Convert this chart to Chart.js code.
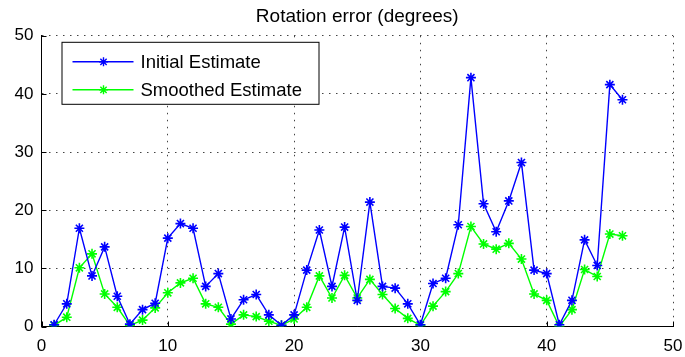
<!DOCTYPE html>
<html>
<head>
<meta charset="utf-8">
<script src="https://cdn.jsdelivr.net/npm/chart.js@4"></script>
<style>
  html, body { margin: 0; padding: 0; background: #fff; }
  #wrap { width: 685px; height: 357px; }
</style>
</head>
<body>
<div id="wrap"><canvas id="chart"></canvas></div>
<script>
// Sample index 1..46
const frames = Array.from({ length: 46 }, (_, i) => i + 1);

const initialEstimate = [
    0.3, 3.9, 16.9, 8.7, 13.7, 5.2, 0.4, 2.9, 4.0, 15.2,
    17.7, 16.9, 6.9, 9.1, 1.3, 4.6, 5.5, 2.0, 0.2, 2.0,
    9.7, 16.6, 6.9, 17.1, 4.5, 21.4, 6.9, 6.6, 3.9, 0.3,
    7.4, 8.3, 17.5, 42.8, 21.1, 16.3, 21.6, 28.2, 9.7, 9.1,
    0.3, 4.5, 14.9, 10.5, 41.6, 39.0
];

const smoothedEstimate = [
    0.2, 1.6, 10.1, 12.5, 5.6, 3.3, 0.2, 1.1, 3.2, 5.8,
    7.5, 8.3, 3.9, 3.3, 0.4, 2.0, 1.7, 0.9, 0.2, 1.3,
    3.3, 8.7, 4.9, 8.8, 4.9, 8.1, 5.5, 3.1, 1.4, 0.2,
    3.5, 6.0, 9.1, 17.2, 14.2, 13.3, 14.3, 11.6, 5.6, 4.5,
    0.0, 2.9, 9.8, 8.6, 15.9, 15.6
];

const xTicks = [0, 10, 20, 30, 40, 50];
const yTicks = [0, 10, 20, 30, 40, 50];

const FONT = 'Liberation Sans, Arial, Helvetica, sans-serif';

function drawStar(ctx, x, y, r) {
    ctx.beginPath();
    ctx.moveTo(x - r, y); ctx.lineTo(x + r, y);
    ctx.moveTo(x, y - r); ctx.lineTo(x, y + r);
    const d = r * 0.7;
    ctx.moveTo(x - d, y - d); ctx.lineTo(x + d, y + d);
    ctx.moveTo(x - d, y + d); ctx.lineTo(x + d, y - d);
    ctx.stroke();
}

// Small inward ticks, MATLAB style
const innerTicks = {
    id: 'innerTicks',
    beforeDatasetsDraw(chart) {
        const { ctx, chartArea, scales } = chart;
        ctx.save();
        ctx.strokeStyle = '#000';
        ctx.lineWidth = 1;
        ctx.beginPath();
        xTicks.forEach(v => {
            const px = Math.round(scales.x.getPixelForValue(v)) + 0.5;
            ctx.moveTo(px, chartArea.bottom);
            ctx.lineTo(px, chartArea.bottom - 5);
        });
        yTicks.forEach(v => {
            const py = Math.round(scales.y.getPixelForValue(v)) + 0.5;
            ctx.moveTo(chartArea.left, py);
            ctx.lineTo(chartArea.left + 5, py);
        });
        ctx.stroke();
        ctx.restore();
    }
};

// Boxed legend in the upper left corner
const boxLegend = {
    id: 'boxLegend',
    afterDraw(chart) {
        const { ctx, chartArea } = chart;
        const x0 = chartArea.left + 20, y0 = chartArea.top + 6;
        const w = 257, h = 62;
        ctx.save();
        ctx.fillStyle = '#fff';
        ctx.fillRect(x0, y0, w, h);
        ctx.strokeStyle = '#000';
        ctx.lineWidth = 1;
        ctx.strokeRect(x0 + 0.5, y0 + 0.5, w, h);
        ctx.font = '18.5px ' + FONT;
        ctx.textBaseline = 'middle';
        chart.data.datasets.forEach((ds, i) => {
            const yy = y0 + 20 + i * 28;
            ctx.strokeStyle = ds.borderColor;
            ctx.lineWidth = 1.4;
            ctx.beginPath();
            ctx.moveTo(x0 + 11, yy);
            ctx.lineTo(x0 + 72, yy);
            ctx.stroke();
            drawStar(ctx, x0 + 42, yy, 4.5);
            ctx.fillStyle = '#000';
            ctx.fillText(ds.label, x0 + 79, yy + 1);
        });
        ctx.restore();
    }
};

function seriesStyle(color) {
    return {
        borderColor: color,
        backgroundColor: color,
        borderWidth: 1.4,
        pointStyle: 'star',
        pointRadius: 5,
        pointBorderWidth: 1.6,
        tension: 0
    };
}

new Chart(document.getElementById('chart'), {
    type: 'line',
    data: {
        datasets: [
            Object.assign({
                label: 'Initial Estimate',
                data: frames.map((f, i) => ({ x: f, y: initialEstimate[i] }))
            }, seriesStyle('#0000ff')),
            Object.assign({
                label: 'Smoothed Estimate',
                data: frames.map((f, i) => ({ x: f, y: smoothedEstimate[i] }))
            }, seriesStyle('#00ff00'))
        ]
    },
    options: {
        responsive: true,
        maintainAspectRatio: false,
        animation: false,
        layout: { padding: { left: 0, right: 12, top: 0, bottom: 0 } },
        plugins: {
            legend: { display: false },
            tooltip: { enabled: false },
            title: {
                display: true,
                fullSize: false,
                text: 'Rotation error (degrees)',
                color: '#000',
                font: { family: FONT, size: 19, weight: 'normal', lineHeight: 1.2 },
                padding: { top: 5, bottom: 8 }
            }
        },
        scales: {
            x: {
                type: 'linear',
                min: 0,
                max: 50,
                afterBuildTicks: s => { s.ticks = xTicks.map(v => ({ value: v })); },
                afterFit: s => { s.height = 30.5; s.paddingLeft = 0; s.paddingRight = 0; },
                border: { display: true, color: '#000', width: 1, dash: [1.5, 5.5] },
                grid: { color: '#444', lineWidth: 1, drawTicks: false },
                ticks: { color: '#000', padding: 10, font: { family: FONT, size: 17 } }
            },
            y: {
                min: 0,
                max: 50,
                afterBuildTicks: s => { s.ticks = yTicks.map(v => ({ value: v })); },
                afterFit: s => { s.width = 41.5; s.paddingTop = 0; s.paddingBottom = 0; },
                border: { display: true, color: '#000', width: 1, dash: [1.5, 5.5] },
                grid: { color: '#444', lineWidth: 1, drawTicks: false },
                ticks: { color: '#000', padding: 8, font: { family: FONT, size: 17 } }
            }
        }
    },
    plugins: [innerTicks, boxLegend]
});
</script>
</body>
</html>
